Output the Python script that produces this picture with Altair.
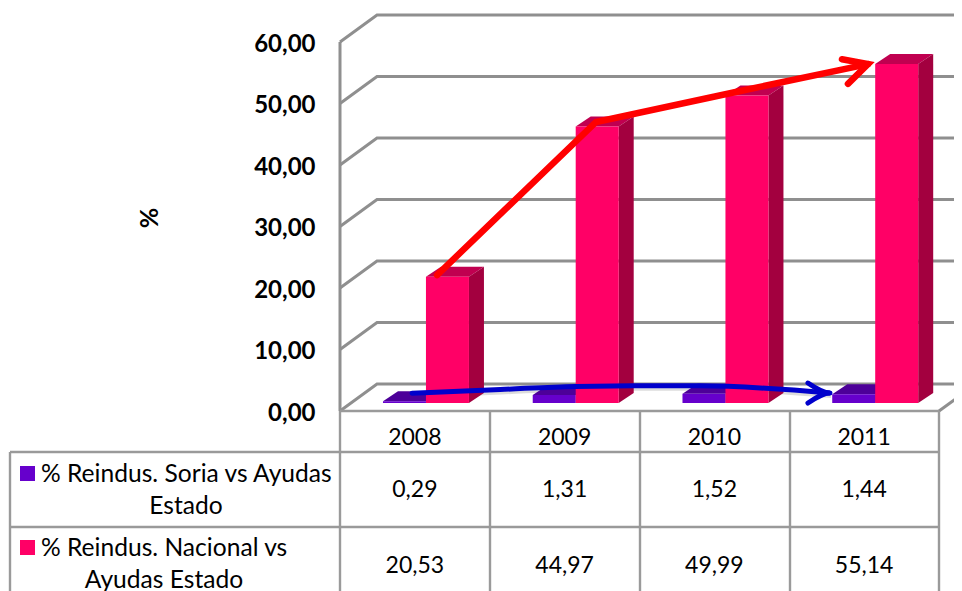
import altair as alt
import pandas as pd

years = ["2008", "2009", "2010", "2011"]
soria = [0.29, 1.31, 1.52, 1.44]
nacional = [20.53, 44.97, 49.99, 55.14]
ticks = [0, 10, 20, 30, 40, 50, 60]
legend_rows = [
    ["% Reindus. Soria vs Ayudas", "Estado"],
    ["% Reindus. Nacional vs", "Ayudas Estado"],
]
PURPLE, PURPLE_SIDE, PURPLE_TOP = "#6600cc", "#3d007a", "#4d0099"
PINK, PINK_SIDE, PINK_TOP = "#ff0066", "#a3003f", "#c00050"
GREY = "#8f8f8f"

# hand-drawn arrows, in (category position, value) units
red_arrow = [(0.648, 22.1), (1.71, 47.0), (2.705, 52.2), (3.526, 56.4)]
red_head = [(3.352, 57.2), (3.526, 56.4), (3.392, 53.2)]
blue_arrow = [(0.481, 2.9), (1.07, 3.5), (1.57, 4.0), (2.07, 4.1), (2.40, 4.1), (3.272, 2.93)]
blue_head = [(3.125, 4.55), (3.272, 2.93), (3.125, 1.3)]

# scale set-up: one category = 149.75 px, one value unit = 6.15 px
W, H = 946, 583
CAT, UNIT = 149.75, 6.15
def U(px): return (px - 340) / CAT
def V(py): return (411 - py) / UNIT
xs = alt.Scale(domain=[U(8), U(8 + W)], range=[0, W], nice=False, zero=False)
ys = alt.Scale(domain=[V(8 + H), V(8)], range=[H, 0], nice=False, zero=False)
y_axis = alt.Axis(values=ticks, domain=False, ticks=False, grid=False, title=None,
                  offset=-332, labelPadding=25, labelFont="Lato", labelFontSize=24,
                  labelFontWeight="bold", labelColor="black", labelOffset=2,
                  labelExpr="replace(format(datum.value,'.2f'),'.',',')")
X = lambda f: alt.X(f, type="quantitative", scale=xs, axis=None)
Y = lambda f: alt.Y(f, type="quantitative", scale=ys, axis=y_axis)

WALL_DX, WALL_DV = 37 / CAT, 27 / UNIT
BAR_W, BASE = 43 / CAT, V(403)
BAR_DX, BAR_DV = 15 / CAT, 10 / UNIT

# walls
wall = []
for t in ticks:
    wall += [dict(x=0, y=t, g=t), dict(x=WALL_DX, y=t + WALL_DV, g=t), dict(x=U(985), y=t + WALL_DV, g=t)]
wall_layer = alt.Chart(pd.DataFrame(wall)).mark_line(color=GREY, strokeWidth=3, clip=True).encode(
    x=X("x"), y=Y("y"), detail="g:N", order="x:Q")
axis_line = alt.Chart(pd.DataFrame([dict(x=0, y=0, y2=60)])).mark_rule(color=GREY, strokeWidth=3).encode(
    x=X("x"), y=Y("y"), y2="y2:Q")
floor_right = alt.Chart(pd.DataFrame([dict(x=U(939), y=0), dict(x=U(939) + WALL_DX, y=WALL_DV)])).mark_line(
    color=GREY, strokeWidth=3, clip=True).encode(x=X("x"), y=Y("y"))

# bars
fronts, face_layers = [], []
for i in range(len(years)):
    for left, val, cf, cs, ct in [
        (i + 0.287, soria[i], PURPLE, PURPLE_SIDE, PURPLE_TOP),
        (i + 0.574, nacional[i], PINK, PINK_SIDE, PINK_TOP),
    ]:
        right = left + BAR_W
        top = BASE + val
        fronts.append(dict(x=left, x2=right, y=BASE, y2=top, c=cf))
        side = pd.DataFrame([dict(x=right, y=BASE, y2=top),
                             dict(x=right + BAR_DX, y=BASE + BAR_DV, y2=top + BAR_DV)])
        topf = pd.DataFrame([dict(x=left, x2=right, y=top),
                             dict(x=left + BAR_DX, x2=right + BAR_DX, y=top + BAR_DV)])
        face_layers.append(alt.Chart(topf).mark_area(orient="horizontal", color=ct).encode(
            y=Y("y"), x=X("x"), x2="x2:Q"))
        face_layers.append(alt.Chart(side).mark_area(orient="vertical", color=cs).encode(
            x=X("x"), y=Y("y"), y2="y2:Q"))
col = alt.Color("c:N", scale=None)
front_layer = alt.Chart(pd.DataFrame(fronts)).mark_rect().encode(
    x=X("x"), x2="x2:Q", y=Y("y"), y2="y2:Q", color=col)

# arrows
def arrow(points, head, color, sw, interp="linear"):
    rows = [dict(x=a, y=b, g="a", o=k) for k, (a, b) in enumerate(points)]
    rows += [dict(x=a, y=b, g="h", o=k) for k, (a, b) in enumerate(head)]
    return alt.Chart(pd.DataFrame(rows)).mark_line(
        color=color, strokeWidth=sw, strokeCap="round", strokeJoin="miter", interpolate=interp
    ).encode(x=X("x"), y=Y("y"), detail="g:N", order="o:Q")
red_layer = arrow(red_arrow, red_head, "#ff0000", 6.5)
blue_layer = arrow(blue_arrow, blue_head, "#0000cc", 5, "monotone")
shadow_rows = [dict(x=a + 1 / CAT, y=b - 3 / UNIT, o=k) for k, (a, b) in enumerate(blue_arrow)]
shadow_layer = alt.Chart(pd.DataFrame(shadow_rows)).mark_line(
    color="#808080", opacity=0.28, strokeWidth=4, interpolate="monotone").encode(
    x=X("x"), y=Y("y"), order="o:Q")

# data table
h = [(340, 939, 411), (10, 939, 452), (10, 939, 527)]
v = [(10, 452, 595), (340, 411, 595), (490, 411, 595), (640, 411, 595), (790, 411, 595), (939, 411, 595)]
rules = [dict(x=U(a), x2=U(b), y=V(c), y2=V(c)) for a, b, c in h] + \
        [dict(x=U(a), x2=U(a), y=V(b), y2=V(c)) for a, b, c in v]
rule_layer = alt.Chart(pd.DataFrame(rules)).mark_rule(color="#9a9a9a", strokeWidth=2.4, clip=True).encode(
    x=X("x"), x2="x2:Q", y=Y("y"), y2="y2:Q")

def fmt(n): return f"{n:.2f}".replace(".", ",")
cells = []
for i, yr in enumerate(years):
    cx = i + 0.5
    cells.append(dict(x=cx, y=V(438), t=yr))
    cells.append(dict(x=cx, y=V(490), t=fmt(soria[i])))
    cells.append(dict(x=cx, y=V(565.5), t=fmt(nacional[i])))
cell_layer = alt.Chart(pd.DataFrame(cells)).mark_text(
    font="Lato", fontSize=23, color="black", baseline="middle", align="center").encode(
    x=X("x"), y=Y("y"), text="t:N")

leg_left = [dict(x=U(41), y=V(475), t=legend_rows[0][0]), dict(x=U(41), y=V(549), t=legend_rows[1][0])]
leg_mid = [dict(x=U(186), y=V(507), t=legend_rows[0][1]), dict(x=U(164), y=V(581), t=legend_rows[1][1])]
leg1 = alt.Chart(pd.DataFrame(leg_left)).mark_text(
    font="Lato", fontSize=24.6, color="black", baseline="middle", align="left").encode(
    x=X("x"), y=Y("y"), text="t:N")
leg2 = alt.Chart(pd.DataFrame(leg_mid)).mark_text(
    font="Lato", fontSize=24.6, color="black", baseline="middle", align="center").encode(
    x=X("x"), y=Y("y"), text="t:N")
sw = pd.DataFrame([dict(x=U(27.5), y=V(473.5), c=PURPLE), dict(x=U(27.5), y=V(547.5), c=PINK)])
swatch = alt.Chart(sw).mark_square(size=225, opacity=1, filled=True).encode(x=X("x"), y=Y("y"), color=col)

ytitle = alt.Chart(pd.DataFrame([dict(x=U(150), y=V(218), t="%")])).mark_text(
    font="Lato", fontSize=25, fontWeight="bold", color="black", angle=270,
    baseline="middle", align="center").encode(x=X("x"), y=Y("y"), text="t:N")

chart = alt.layer(
    wall_layer, axis_line, floor_right, shadow_layer, *face_layers, front_layer,
    red_layer, blue_layer, rule_layer, cell_layer, leg1, leg2, swatch, ytitle
).properties(
    width=W, height=H, padding=0, background="white",
    autosize=alt.AutoSizeParams(type="none")
).configure_view(stroke=None)

chart.save("out.html", embed_options={"renderer": "svg", "actions": False})
